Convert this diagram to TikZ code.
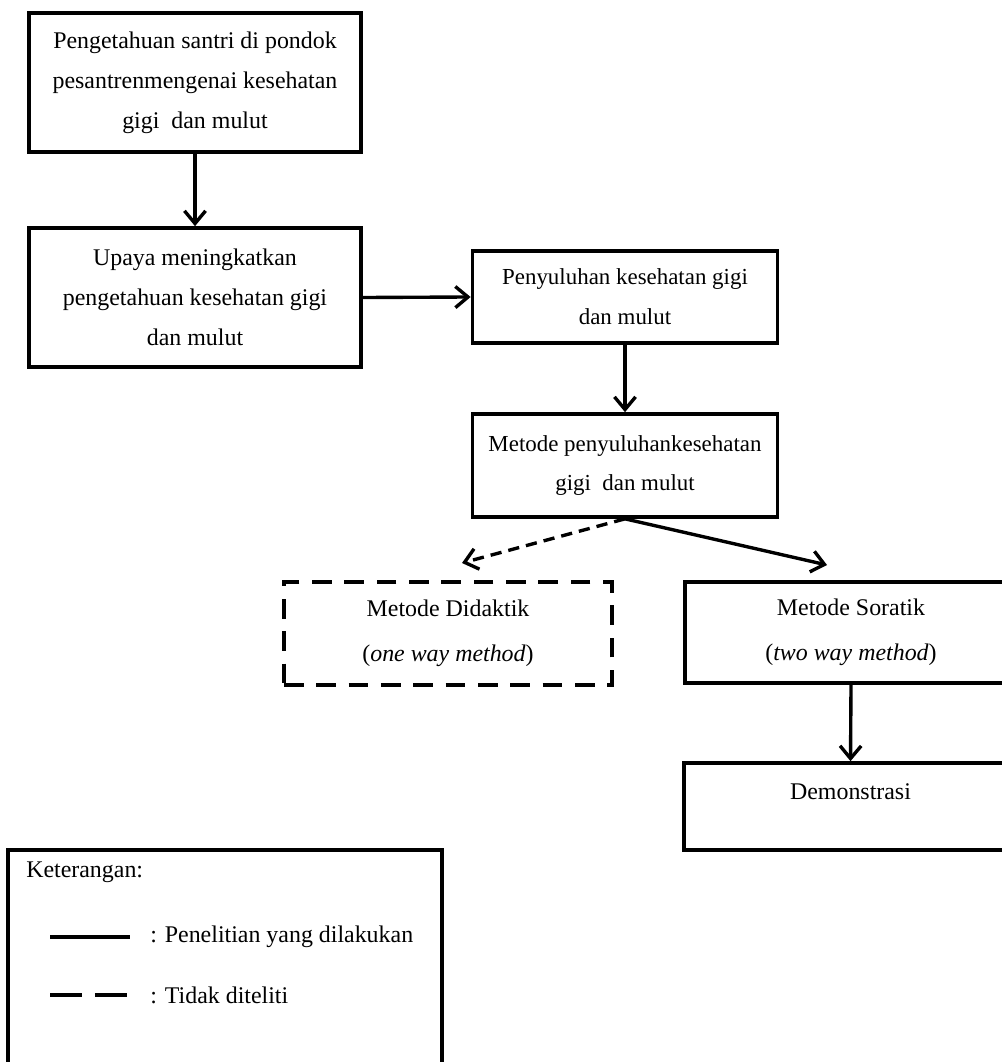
\documentclass[tikz,border=0pt]{standalone}
\usepackage{fontspec}
\setmainfont{Liberation Serif}
\usetikzlibrary{arrows.meta}

\begin{document}
\begin{tikzpicture}[x=0.025cm,y=-0.025cm,
    kotak/.style={draw,line width=2.6pt,align=center,inner sep=0pt,
      font=\fontsize{17}{28.4}\selectfont},
    rapat/.style={font=\fontsize{16.3}{28.4}\selectfont},
    teks/.style={inner sep=0pt,font=\fontsize{17}{28.4}\selectfont},
    panah/.style={line width=2.4pt,-{Straight Barb[length=9pt,width=15pt]}},
    putus/.style={dash pattern=on 14pt off 9pt},
    putuspanah/.style={dash pattern=on 8pt off 5pt}]
  \useasboundingbox (0,0) rectangle (1001,1062);

  % kotak alur
  \node[kotak,minimum width=8.3cm,minimum height=3.475cm] (A) at (195,82.5)
    {Pengetahuan santri di pondok\\pesantrenmengenai kesehatan\\gigi\ \ dan mulut};
  \node[kotak,minimum width=8.3cm,minimum height=3.475cm] (B) at (195,297.5)
    {Upaya meningkatkan\\pengetahuan kesehatan gigi\\dan mulut};
  \node[kotak,rapat,minimum width=7.625cm,minimum height=2.3cm] (C) at (625,297)
    {Penyuluhan kesehatan gigi\\dan mulut};
  \node[kotak,rapat,minimum width=7.625cm,minimum height=2.575cm] (D) at (625,465.5)
    {Metode penyuluhankesehatan\\gigi\ \ dan mulut};
  \node[kotak,putus,minimum width=8.2cm,minimum height=2.575cm] (Dk) at (448,633.5)
    {Metode Didaktik\\[3.5pt](\textit{one way method})};
  \node[kotak,minimum width=8.3cm,minimum height=2.525cm] (Sr) at (851,632.5)
    {Metode Soratik\\[3.5pt](\textit{two way method})};
  \node[kotak,minimum width=8.325cm,minimum height=2.175cm] (Dm) at (850.5,806.5)
    {Demonstrasi\\[-7.8pt]\mbox{}};

  \coordinate (ujungDk) at (462,563);
  \coordinate (ujungSr) at (827,565);

  \draw[panah] (A.south) -- (B.north);
  \draw[panah] (B.east) -- (C.west);
  \draw[panah] (C.south) -- (D.north);
  \draw[panah,putuspanah] (D.south) -- (ujungDk);
  \draw[panah] (D.south) -- (ujungSr);
  \draw[panah] (Sr.south) -- (Dm.north);

  % keterangan
  \node[draw,line width=2.6pt,minimum width=10.85cm,minimum height=6cm] (Ket) at (225,970) {};
  \node[teks,anchor=west] (kt) at (26,872) {Keterangan:};
  \coordinate (l1a) at (50,937);
  \coordinate (l1b) at (130,937);
  \coordinate (l2a) at (50,995);
  \coordinate (l2b) at (128,995);
  \draw[line width=3pt] (l1a) -- (l1b);
  \draw[line width=3pt,dash pattern=on 22.7pt off 9.2pt] (l2a) -- (l2b);
  \node[teks,anchor=west] (k1) at (150,937) {: Penelitian yang dilakukan};
  \node[teks,anchor=west] (k2) at (150,995) {: Tidak diteliti};
\end{tikzpicture}
\end{document}
